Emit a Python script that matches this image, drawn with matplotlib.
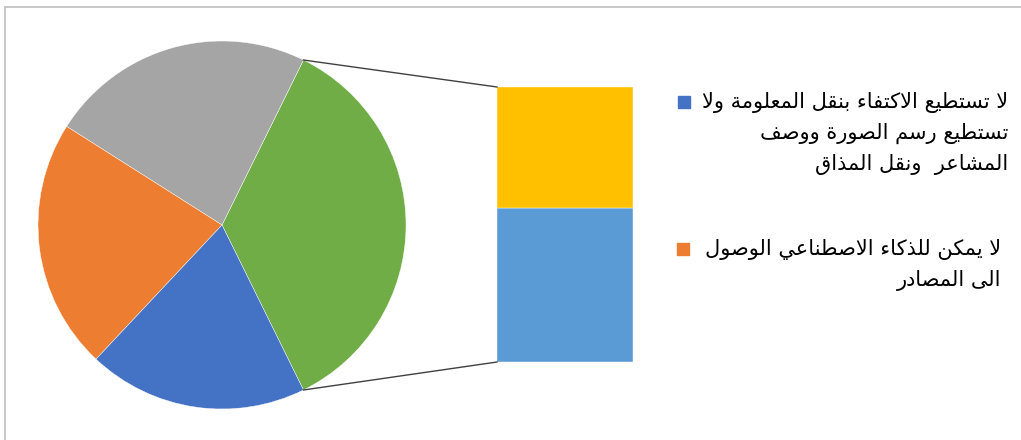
import matplotlib
matplotlib.use("Agg")
import numpy as np
import matplotlib.pyplot as plt
from matplotlib.patches import Rectangle

# Données (pourcentages estimés)
pie_labels = ["autre", "gris", "orange", "bleu"]
pie_colors = ["#70AD47", "#A5A5A5", "#ED7D31", "#4472C4"]
gray_val = 23.3
orange_val = 22.0
blue_val = 19.3
bar_vals = [19.8, 15.6]          # bas (bleu clair), haut (jaune)
bar_colors = ["#5B9BD5", "#FFC000"]

legend_lines = [
    ["لا تستطيع الاكتفاء بنقل المعلومة ولا",
     "تستطيع رسم الصورة ووصف",
     "المشاعر  ونقل المذاق"],
    ["لا يمكن للذكاء الاصطناعي الوصول",
     "الى المصادر"],
]
legend_colors = ["#4472C4", "#ED7D31"]

# Mise en forme arabe (formes de présentation + inversion)
FORMS = {
    'ء': (0xFE80,), 'آ': (0xFE81, 0xFE82), 'أ': (0xFE83, 0xFE84),
    'ؤ': (0xFE85, 0xFE86), 'إ': (0xFE87, 0xFE88),
    'ئ': (0xFE89, 0xFE8A, 0xFE8B, 0xFE8C), 'ا': (0xFE8D, 0xFE8E),
    'ب': (0xFE8F, 0xFE90, 0xFE91, 0xFE92), 'ة': (0xFE93, 0xFE94),
    'ت': (0xFE95, 0xFE96, 0xFE97, 0xFE98), 'ث': (0xFE99, 0xFE9A, 0xFE9B, 0xFE9C),
    'ج': (0xFE9D, 0xFE9E, 0xFE9F, 0xFEA0), 'ح': (0xFEA1, 0xFEA2, 0xFEA3, 0xFEA4),
    'خ': (0xFEA5, 0xFEA6, 0xFEA7, 0xFEA8), 'د': (0xFEA9, 0xFEAA),
    'ذ': (0xFEAB, 0xFEAC), 'ر': (0xFEAD, 0xFEAE), 'ز': (0xFEAF, 0xFEB0),
    'س': (0xFEB1, 0xFEB2, 0xFEB3, 0xFEB4), 'ش': (0xFEB5, 0xFEB6, 0xFEB7, 0xFEB8),
    'ص': (0xFEB9, 0xFEBA, 0xFEBB, 0xFEBC), 'ض': (0xFEBD, 0xFEBE, 0xFEBF, 0xFEC0),
    'ط': (0xFEC1, 0xFEC2, 0xFEC3, 0xFEC4), 'ظ': (0xFEC5, 0xFEC6, 0xFEC7, 0xFEC8),
    'ع': (0xFEC9, 0xFECA, 0xFECB, 0xFECC), 'غ': (0xFECD, 0xFECE, 0xFECF, 0xFED0),
    'ف': (0xFED1, 0xFED2, 0xFED3, 0xFED4), 'ق': (0xFED5, 0xFED6, 0xFED7, 0xFED8),
    'ك': (0xFED9, 0xFEDA, 0xFEDB, 0xFEDC), 'ل': (0xFEDD, 0xFEDE, 0xFEDF, 0xFEE0),
    'م': (0xFEE1, 0xFEE2, 0xFEE3, 0xFEE4), 'ن': (0xFEE5, 0xFEE6, 0xFEE7, 0xFEE8),
    'ه': (0xFEE9, 0xFEEA, 0xFEEB, 0xFEEC), 'و': (0xFEED, 0xFEEE),
    'ى': (0xFEEF, 0xFEF0), 'ي': (0xFEF1, 0xFEF2, 0xFEF3, 0xFEF4),
}
LAM_ALEF = {'ا': (0xFEFB, 0xFEFC), 'أ': (0xFEF7, 0xFEF8),
            'إ': (0xFEF9, 0xFEFA), 'آ': (0xFEF5, 0xFEF6)}


def dual(c):
    return c in FORMS and len(FORMS[c]) == 4


def shape(s):
    chars = list(s)
    out = []
    i = 0
    while i < len(chars):
        c = chars[i]
        prev = chars[i - 1] if i > 0 else ''
        joins_prev = dual(prev)
        if c == 'ل' and i + 1 < len(chars) and chars[i + 1] in LAM_ALEF:
            f = LAM_ALEF[chars[i + 1]]
            out.append(chr(f[1] if joins_prev else f[0]))
            i += 2
            continue
        if c not in FORMS:
            out.append(c)
            i += 1
            continue
        f = FORMS[c]
        nxt = chars[i + 1] if i + 1 < len(chars) else ''
        joins_next = dual(c) and nxt in FORMS
        if len(f) == 1:
            out.append(chr(f[0]))
        elif joins_prev and joins_next:
            out.append(chr(f[3]))
        elif joins_next:
            out.append(chr(f[2]))
        elif joins_prev:
            out.append(chr(f[1]))
        else:
            out.append(chr(f[0]))
        i += 1
    return ''.join(reversed(out))


plt.rcParams['font.family'] = ['DejaVu Sans']

W, H = 1021, 440
fig = plt.figure(figsize=(W / 100, H / 100), dpi=100)
ax = fig.add_axes([0, 0, 1, 1])

# camembert
other_val = sum(bar_vals)
pie_vals = [other_val, gray_val, orange_val, blue_val]
total = sum(pie_vals)
start = -other_val / total * 180
cx, cy, r = 222, H - 225, 184
ax.pie(pie_vals, colors=pie_colors, startangle=start, counterclock=True,
       center=(cx, cy), radius=r, frame=True,
       wedgeprops=dict(edgecolor="white", linewidth=0.3))
ax.set_xlim(0, W)
ax.set_ylim(0, H)
ax.axis('off')

# cadre
ax.add_patch(Rectangle((5, -10), W + 20, H - 7 + 10, fill=False,
                       edgecolor="#BFBFBF", linewidth=1.2))

# barre empilée
bx, bw = 497, 136
btop, bbot = H - 87, H - 362
scale = (btop - bbot) / other_val
bottom = bbot
for v, col in zip(bar_vals, bar_colors):
    ax.bar(bx + bw / 2, v * scale, width=bw, bottom=bottom, color=col,
           edgecolor="white", linewidth=0.3)
    bottom += v * scale

# lignes de liaison
a1 = np.deg2rad(start + other_val / total * 360)
a0 = np.deg2rad(start)
ax.plot([cx + r * np.cos(a1), bx], [cy + r * np.sin(a1), btop],
        color="#404040", linewidth=1)
ax.plot([cx + r * np.cos(a0), bx], [cy + r * np.sin(a0), bbot],
        color="#404040", linewidth=1)

# légende
entries = [(1008, 102, 678), (1001, 249, 677)]
for (xr, y0, mx), lines, col in zip(entries, legend_lines, legend_colors):
    ax.add_patch(Rectangle((mx, H - y0 - 6), 12, 12, color=col))
    for k, line in enumerate(lines):
        ax.text(xr, H - (y0 + k * 31), shape(line), ha='right', va='center',
                fontsize=15, color="#000000")

fig.savefig("out.png", dpi=100)
